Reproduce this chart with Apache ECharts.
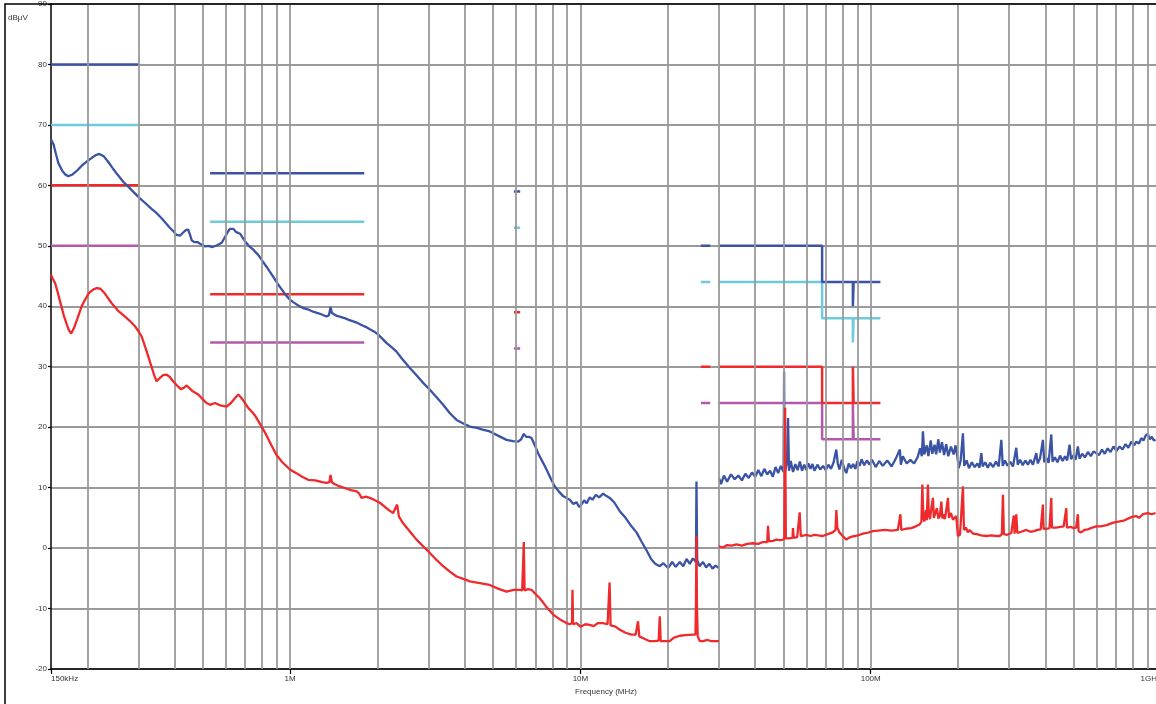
<!DOCTYPE html>
<html>
<head>
<meta charset="utf-8">
<script src="https://cdn.jsdelivr.net/npm/echarts@6/dist/echarts.min.js"></script>
<style>
html,body{margin:0;padding:0;background:#fff;}
#c{width:1156px;height:704px;}
</style>
</head>
<body>
<div id="c"></div>
<script>
// ---- axis data ----
const xTickValues = [0.15, 1, 10, 100, 1000];
const xTickLabels = ['150kHz', '1M', '10M', '100M', '1GHz'];
const yMin = -20, yMax = 90, yStep = 10;
const gridFreqs = [0.2,0.3,0.4,0.5,0.6,0.7,0.8,0.9,1,2,3,4,5,6,7,8,9,10,20,30,40,50,60,70,80,90,100,200,300,400,500,600,700,800,900];

// ---- limit lines (MHz, dBuV), one list of segments per colour ----
const limitBlue = [
  [[0.15,80],[0.3,80]],
  [[0.53,62],[1.8,62]],
  [[5.9,59],[6.2,59]],
  [[26,50],[28,50]],
  [[30,50],[68,50],[68,44],[86.8,44],[86.8,40],[87.3,40],[87.3,44],[108,44]]
];
const limitCyan = [
  [[0.15,70],[0.3,70]],
  [[0.53,54],[1.8,54]],
  [[5.9,53],[6.2,53]],
  [[26,44],[28,44]],
  [[30,44],[68,44],[68,38],[86.8,38],[86.8,34],[87.3,34],[87.3,38],[108,38]]
];
const limitRed = [
  [[0.15,60],[0.3,60]],
  [[0.53,42],[1.8,42]],
  [[5.9,39],[6.2,39]],
  [[26,30],[28,30]],
  [[30,30],[68,30],[68,24],[86.8,24],[86.8,30],[87.3,30],[87.3,24],[108,24]]
];
const limitMagenta = [
  [[0.15,50],[0.3,50]],
  [[0.53,34],[1.8,34]],
  [[5.9,33],[6.2,33]],
  [[26,24],[28,24]],
  [[30,24],[68,24],[68,18],[86.8,18],[86.8,24],[87.3,24],[87.3,18],[108,18]]
];

// ---- peak trace (blue) ----
const peakLow = [[0.15,67.6],[0.153,66.8],[0.156,65.2],[0.159,63.7],[0.164,62.4],[0.168,61.8],[0.172,61.5],[0.178,61.8],[0.185,62.5],[0.192,63.3],[0.2,64.0],[0.208,64.6],[0.214,65.0],[0.22,65.2],[0.228,64.8],[0.236,63.9],[0.245,62.8],[0.255,61.7],[0.266,60.6],[0.278,59.7],[0.29,58.8],[0.303,57.9],[0.318,57.0],[0.333,56.1],[0.347,55.4],[0.36,54.6],[0.372,53.8],[0.385,53.0],[0.396,52.4],[0.406,51.8],[0.418,51.7],[0.428,52.2],[0.437,52.6],[0.445,52.7],[0.452,51.8],[0.458,50.9],[0.468,50.6],[0.48,50.6],[0.495,50.2],[0.51,49.9],[0.522,50.0],[0.54,49.8],[0.56,50.1],[0.581,50.5],[0.597,51.5],[0.61,52.3],[0.62,52.8],[0.628,52.5],[0.638,52.8],[0.65,52.3],[0.66,52.6],[0.672,52.0],[0.685,51.4],[0.7,50.7],[0.72,50.0],[0.745,49.4],[0.776,48.5],[0.8,47.6],[0.83,46.5],[0.86,45.4],[0.885,44.5],[0.909,43.6],[0.935,42.8],[0.96,42.0],[0.998,41.1],[1.03,40.6],[1.07,40.1],[1.109,39.7],[1.15,39.5],[1.2,39.1],[1.26,38.8],[1.335,38.3],[1.36,38.5],[1.378,39.9],[1.392,38.9],[1.406,38.8],[1.45,38.4],[1.5,38.2],[1.55,38.0],[1.6,37.7],[1.65,37.5],[1.694,37.3],[1.76,36.9],[1.82,36.6],[1.882,36.2],[1.95,35.8],[2.01,35.3],[2.08,34.6],[2.15,33.9],[2.24,33.2],[2.325,32.5],[2.42,31.4],[2.5,30.6],[2.584,29.8],[2.7,28.8],[2.85,27.5],[3.028,26.2],[3.2,24.9],[3.365,23.7],[3.55,22.3],[3.743,21.2],[3.95,20.6],[4.158,20.1],[4.4,19.9],[4.6,19.6],[4.873,19.3],[5.2,18.6],[5.564,17.9],[5.85,17.7],[6.1,17.6],[6.25,18.0],[6.381,18.9],[6.5,18.4],[6.65,18.4],[6.782,18.2],[6.95,17.1],[7.146,15.7],[7.4,14.3],[7.641,13.0],[7.9,11.5],[8.16,10.2],[8.45,9.3],[8.714,8.6],[8.95,8.3],[9.19,8.0],[9.45,7.3],[9.69,7.6],[9.9,6.8],[10.08,7.2],[10.3,7.9],[10.5,7.4],[10.77,8.4],[11.0,8.0],[11.3,8.8],[11.6,8.4],[11.97,9.0],[12.3,8.6],[12.62,8.3],[13.1,7.5],[13.66,6.1],[14.3,5.0],[14.99,3.6],[15.6,2.6],[16.23,1.1],[16.9,-0.4],[17.56,-1.9],[18.1,-2.6],[18.76,-3.0],[19.3,-2.5],[20.04,-3.3],[20.7,-2.3],[21.3,-3.1],[21.99,-2.3],[22.6,-3.0],[23.2,-1.8],[23.8,-2.6],[24.4,-1.7],[25.0,-2.3],[25.1,11.0],[25.25,-2.0],[25.7,-3.0],[26.44,-2.3],[27.1,-3.2],[27.8,-2.6],[28.5,-3.4],[29.2,-2.9],[30,-3.3]];
const peakHigh = [[30,11.6],[30.5,10.6],[31.2,12.0],[32,11.0],[33,12.2],[34,11.4],[35,12.0],[36,11.2],[37,12.3],[38,11.6],[39,12.5],[40,11.8],[41,12.9],[42,11.9],[43,13.1],[44,12.2],[45,12.8],[46,11.8],[47,13.4],[48,12.4],[49,13.6],[50.1,12.6],[50.3,29.2],[50.5,12.4],[51.5,14.2],[51.9,21.5],[52.3,12.8],[53,14.4],[54,12.6],[55,13.9],[56,12.9],[57,14.3],[58,12.8],[59,13.8],[60,12.9],[61,14.0],[62,13.1],[63,13.9],[64,12.8],[65.5,13.8],[67,13.0],[68.5,13.6],[70,12.9],[71.5,13.8],[73,13.1],[74.5,14.2],[76.1,16.3],[77,14.0],[78,13.0],[79.5,14.6],[81,13.2],[82.4,12.4],[84,14.0],[85.5,13.2],[87,13.9],[88.5,13.1],[90,14.4],[91.6,13.6],[93,14.7],[95,13.7],[97,14.5],[99,13.8],[101,14.6],[104,13.4],[107,14.4],[110,13.6],[114,14.5],[118,13.5],[122,14.8],[126,16.3],[127,13.8],[129,15.2],[133,14.0],[137,14.6],[141,14.0],[145,15.0],[148,16.5],[150,15.2],[151.3,19.3],[153,15.5],[156,17.0],[158,15.2],[161,17.8],[163,15.6],[166,17.1],[168,15.5],[171,18.0],[173,15.8],[176,17.5],[179,15.4],[182,17.2],[185,15.2],[189,16.8],[193,15.5],[196,17.0],[199,15.0],[201,13.2],[204,14.4],[207.8,19.0],[210,13.6],[214,14.5],[218,13.2],[223,14.2],[228,13.4],[233,14.0],[237,13.3],[240.4,15.7],[243,13.5],[248,14.2],[253,13.3],[258,14.1],[264,13.4],[270,14.3],[276,13.5],[281.8,17.9],[285,13.6],[290,14.5],[296,13.6],[302,14.3],[309,13.5],[317.3,16.6],[321,13.8],[327,14.6],[334,13.7],[341,14.5],[348,13.8],[355,14.6],[362,13.8],[371.9,15.7],[376,14.0],[383,14.8],[391.9,17.9],[396,14.2],[403,14.9],[410,14.1],[418.8,18.8],[423,14.3],[431,15.0],[440,14.2],[449,15.3],[458,14.4],[467,15.2],[475,14.5],[484.2,17.1],[490,14.7],[500,15.4],[508,14.6],[517.1,16.8],[524,14.8],[535,15.6],[547,15.0],[560,15.9],[573,15.2],[586,16.0],[598,15.7],[612,15.4],[626,16.3],[640,15.6],[655,16.5],[670,15.9],[686,16.8],[703,16.1],[720,16.8],[737,16.3],[755,17.2],[772,16.6],[790,17.6],[808,17.0],[822,17.6],[840,17.3],[855,18.2],[870,17.8],[885,18.6],[901,18.9],[915,18.0],[930,18.4],[945,17.8],[958,17.9]];

// ---- average trace (red) ----
const avgLow = [[0.15,45.2],[0.152,44.6],[0.155,43.8],[0.158,42.4],[0.162,40.4],[0.166,38.5],[0.17,37.0],[0.173,36.0],[0.176,35.5],[0.18,36.4],[0.185,38.0],[0.1913,40.0],[0.197,41.2],[0.203,42.2],[0.21,42.8],[0.2156,43.0],[0.222,42.9],[0.23,42.1],[0.2427,40.5],[0.255,39.3],[0.2698,38.3],[0.28,37.6],[0.292,36.7],[0.3,35.9],[0.3079,35.0],[0.316,33.4],[0.3245,31.7],[0.333,30.0],[0.34,28.6],[0.3467,27.6],[0.355,28.1],[0.365,28.6],[0.3753,28.7],[0.385,28.3],[0.395,27.6],[0.4115,26.7],[0.42,26.3],[0.43,26.5],[0.44,26.9],[0.447,26.6],[0.46,26.0],[0.4824,25.4],[0.5,24.6],[0.515,24.0],[0.53,23.7],[0.5506,24.0],[0.575,23.6],[0.6041,23.4],[0.625,24.0],[0.645,24.8],[0.6624,25.4],[0.675,25.0],[0.69,24.4],[0.7168,23.2],[0.74,22.5],[0.76,21.8],[0.7971,20.1],[0.83,18.6],[0.86,17.1],[0.9,15.3],[0.94,14.2],[0.998,13.0],[1.05,12.4],[1.1,11.8],[1.154,11.3],[1.22,11.2],[1.29,10.9],[1.335,10.8],[1.365,10.9],[1.378,12.1],[1.392,10.9],[1.42,10.6],[1.483,10.2],[1.55,9.9],[1.62,9.6],[1.694,9.4],[1.73,9.0],[1.762,8.3],[1.82,8.5],[1.882,8.3],[1.96,7.9],[2.037,7.5],[2.12,6.8],[2.2,6.2],[2.264,5.8],[2.3,5.6],[2.336,7.2],[2.37,5.2],[2.45,4.1],[2.58,2.8],[2.725,1.4],[2.87,0.3],[3.028,-0.8],[3.2,-2.0],[3.365,-3.0],[3.55,-3.9],[3.743,-4.7],[3.95,-5.1],[4.158,-5.5],[4.5,-5.8],[4.873,-6.1],[5.2,-6.7],[5.564,-7.2],[5.9,-6.9],[6.182,-6.9],[6.3,-7.0],[6.381,1.0],[6.42,-7.0],[6.6,-6.8],[6.782,-6.9],[7.0,-7.6],[7.244,-8.3],[7.6,-9.6],[8.052,-11.0],[8.5,-11.8],[8.952,-12.4],[9.2,-12.6],[9.35,-12.4],[9.389,-6.9],[9.43,-12.6],[9.692,-12.4],[10.0,-13.0],[10.4,-12.6],[10.77,-12.7],[11.1,-12.9],[11.5,-12.4],[11.97,-12.4],[12.4,-12.6],[12.6,-5.7],[12.7,-12.8],[13.2,-13.0],[13.66,-13.5],[14.3,-14.0],[14.99,-14.3],[15.5,-14.3],[15.79,-12.1],[15.95,-14.6],[16.6,-15.0],[17.33,-15.4],[18.0,-15.4],[18.6,-15.3],[18.76,-11.3],[18.9,-15.4],[19.6,-15.4],[20.3,-15.4],[21.0,-14.8],[21.99,-14.5],[23.0,-14.4],[24.43,-14.3],[24.9,-14.3],[25.0,-9.6],[25.1,2.0],[25.2,-9.6],[25.35,-14.6],[25.8,-15.4],[26.44,-15.4],[27.4,-15.2],[28.3,-15.4],[30,-15.4]];
const avgHigh = [[30,0.3],[31,0.1],[32,0.5],[33.2,0.4],[34.45,0.6],[36,0.4],[37.5,0.7],[39.31,0.8],[41,0.7],[42.5,1.0],[44,1.0],[44.28,3.7],[44.6,1.1],[46,1.2],[47.33,1.4],[49,1.3],[50.4,1.5],[50.7,23.2],[51.0,1.6],[52,1.6],[53.8,1.7],[53.97,3.3],[54.3,1.7],[55.8,1.8],[56.92,5.9],[57.4,2.0],[59,2.1],[60.03,2.2],[62,2.0],[64,2.2],[66,2.1],[68.47,2.0],[70,2.2],[72,2.4],[74,2.6],[75.6,3.0],[76.14,6.3],[76.7,3.4],[78,2.6],[80,2.0],[82.45,1.4],[84,1.7],[86,1.9],[88.5,2.0],[91.59,2.2],[94,2.4],[97,2.5],[101.8,2.8],[106,2.9],[112,3.0],[118,2.9],[124,3.0],[126.5,5.6],[127.5,3.0],[132,3.2],[138,3.3],[143,3.6],[147.4,3.9],[149.5,4.4],[150.6,10.5],[151.8,5.0],[153,4.4],[155,6.3],[156,4.6],[157.4,10.5],[158.6,5.4],[160,4.8],[162,6.8],[163.8,8.3],[165,5.0],[167,4.7],[169,6.6],[171,4.9],[173,5.3],[175.1,7.7],[176.5,4.9],[178,5.6],[180,4.8],[182,6.2],[184.5,8.3],[186,5.0],[189,5.8],[192,4.7],[195,4.9],[197,5.3],[199.7,2.0],[203,2.2],[206,2.5],[207.8,10.2],[209.5,3.0],[213,3.4],[216,2.6],[219.1,3.0],[225,2.4],[232,2.3],[240,2.1],[250,2.0],[260,2.1],[270,2.0],[278,2.0],[283,2.3],[285.4,8.8],[287.5,2.3],[295,2.2],[305,2.5],[311,5.4],[313,2.4],[317.3,5.6],[320,2.5],[330,2.7],[343.6,3.0],[355,2.7],[365,2.8],[375,3.0],[385,3.1],[391.9,7.2],[394,3.2],[405,3.2],[413,3.3],[418.8,8.3],[421,3.4],[435,3.4],[450,3.5],[462,3.6],[471.8,6.6],[474,3.4],[488,3.5],[500,3.3],[510,3.4],[517.1,5.6],[520,2.8],[530,2.6],[545,3.0],[560,3.1],[580,3.4],[598.4,3.6],[620,3.6],[650,3.8],[685,4.2],[719.7,4.4],[750,4.6],[779.3,5.0],[800,5.2],[821.7,5.3],[840,5.0],[866,5.6],[900,5.8],[930,5.6],[957.6,5.8]];

// ---- colours ----
const C_BLUE = '#3a53a4', C_CYAN = '#6ecbdc', C_RED = '#ee2a2c', C_MAG = '#b658a9';
const FONT = 'Liberation Sans, Arial, sans-serif';

const chart = echarts.init(document.getElementById('c'), null, {renderer: 'canvas'});

const series = [];
// vertical log grid lines
series.push({
  type: 'line', data: [], z: 1, silent: true,
  markLine: {
    silent: true, symbol: ['none', 'none'], animation: false,
    label: {show: false},
    lineStyle: {color: '#9a9a9a', width: 1.8, type: 'solid'},
    emphasis: {disabled: true},
    data: gridFreqs.map(f => ({xAxis: f}))
  }
});
function addLimit(segs, color) {
  segs.forEach(seg => series.push({
    type: 'line', data: seg, showSymbol: false, symbol: 'none', z: 3,
    lineStyle: {color: color, width: 2.5}, silent: true, animation: false
  }));
}
addLimit(limitMagenta, C_MAG);
addLimit(limitRed, C_RED);
addLimit(limitCyan, C_CYAN);
addLimit(limitBlue, C_BLUE);
[peakLow, peakHigh].forEach(d => series.push({
  type: 'line', data: d, showSymbol: false, symbol: 'none', z: 4,
  lineStyle: {color: C_BLUE, width: 2.3}, silent: true, animation: false
}));
[avgLow, avgHigh].forEach(d => series.push({
  type: 'line', data: d, showSymbol: false, symbol: 'none', z: 5,
  lineStyle: {color: C_RED, width: 2.3}, silent: true, animation: false
}));

function xLabel(v) {
  for (let i = 0; i < xTickValues.length; i++) {
    if (Math.abs(Math.log10(v) - Math.log10(xTickValues[i])) < 0.01) return xTickLabels[i];
  }
  return '';
}

chart.setOption({
  animation: false,
  backgroundColor: '#fff',
  grid: {left: 51, right: -5, top: 4, bottom: 35, outerBoundsMode: 'none', containLabel: false},
  xAxis: {
    type: 'log', logBase: 10, min: xTickValues[0], max: xTickValues[xTickValues.length - 1],
    name: 'Frequency (MHz)', nameLocation: 'middle', nameGap: 18,
    nameTextStyle: {fontSize: 8, color: '#333', fontFamily: FONT},
    axisLine: {show: true, onZero: false, lineStyle: {color: '#000', width: 1.5}},
    axisTick: {show: true, length: 5, lineStyle: {color: '#000', width: 1.2}},
    axisLabel: {fontSize: 8, color: '#333', fontFamily: FONT, margin: 6, formatter: xLabel,
                alignMinLabel: 'left', alignMaxLabel: 'right', showMinLabel: true, showMaxLabel: true},
    splitLine: {show: false},
    minorTick: {show: false}
  },
  yAxis: {
    type: 'value', min: yMin, max: yMax, interval: yStep,
    axisLine: {show: true, onZero: false, lineStyle: {color: '#000', width: 1.5}},
    axisTick: {show: true, length: 3, lineStyle: {color: '#000', width: 1.2}},
    axisLabel: {fontSize: 8, color: '#333', fontFamily: FONT, margin: 4},
    splitLine: {show: true, lineStyle: {color: '#9a9a9a', width: 1.8}}
  },
  graphic: [
    {type: 'text', left: 8, top: 14, z: 100,
     style: {text: 'dBµV', fontSize: 8, fill: '#333', fontFamily: FONT}},
    {type: 'rect', z: 100, silent: true,
     shape: {x: 5, y: 4, width: 1200, height: 800},
     style: {fill: 'none', stroke: '#000', lineWidth: 1.5}}
  ],
  series: series
});
</script>
</body>
</html>
